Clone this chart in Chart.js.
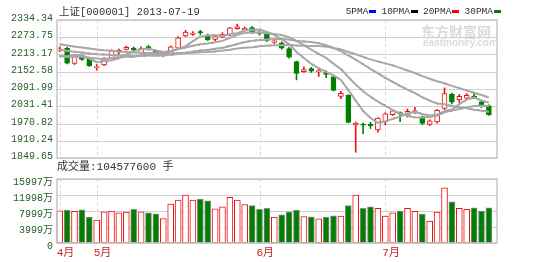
<!DOCTYPE html>
<html>
<head>
<meta charset="utf-8">
<script src="https://cdn.jsdelivr.net/npm/chart.js@4.4.1/dist/chart.umd.min.js"></script>
<style>
  body { margin: 0; background: #fff; }
  #wrap { position: relative; width: 550px; height: 262px; overflow: hidden;
          font-family: "Liberation Mono", "Noto Sans CJK SC", monospace; }
  canvas { position: absolute; left: 0; }
  .txt { position: absolute; white-space: nowrap; color: #333; font-size: 10.5px; line-height: 12px; }
  .sw { display: inline-block; width: 7px; height: 3px; margin: 0 5px 0 1px; vertical-align: middle; }
  .wm { position: absolute; white-space: nowrap; color: #dadada; font-weight: bold; font-family: "Noto Sans CJK SC", sans-serif; }
</style>
</head>
<body>
<div id="wrap">
  <canvas id="kline" width="550" height="170" style="top:0"></canvas>
  <canvas id="vol" width="550" height="92" style="top:170px"></canvas>
  <div class="txt" style="left:59px;top:6px">上证[000001] 2013-07-19</div>
  <div class="txt" style="right:49px;top:6px;font-size:9.5px">5PMA<span class="sw" style="background:#0000ff"></span>10PMA<span class="sw" style="background:#000"></span>20PMA<span class="sw" style="background:#ff0000"></span>30PMA<span class="sw" style="background:#008000;margin-right:0"></span></div>
  <div class="wm" style="left:421px;top:23px;font-size:14px;line-height:16px">东方财富网</div>
  <div class="wm" style="left:423px;top:38px;font-size:10px;line-height:10px;font-family:'Liberation Sans',sans-serif">eastmoney.com</div>
  <div class="txt" style="left:57px;top:161px;font-size:11px">成交量:104577600 手</div>
</div>
<script>
// trading days shown (one empty slot is kept after the last one)
const dates = ['2013-04-22','2013-04-23','2013-04-24','2013-04-25','2013-04-26',
  '2013-05-02','2013-05-03','2013-05-06','2013-05-07','2013-05-08','2013-05-09','2013-05-10',
  '2013-05-13','2013-05-14','2013-05-15','2013-05-16','2013-05-17','2013-05-20','2013-05-21',
  '2013-05-22','2013-05-23','2013-05-24','2013-05-27','2013-05-28','2013-05-29','2013-05-30','2013-05-31',
  '2013-06-03','2013-06-04','2013-06-05','2013-06-06','2013-06-07','2013-06-13','2013-06-14',
  '2013-06-17','2013-06-18','2013-06-19','2013-06-20','2013-06-21','2013-06-24','2013-06-25',
  '2013-06-26','2013-06-27','2013-06-28',
  '2013-07-01','2013-07-02','2013-07-03','2013-07-04','2013-07-05','2013-07-08','2013-07-09',
  '2013-07-10','2013-07-11','2013-07-12','2013-07-15','2013-07-16','2013-07-17','2013-07-18','2013-07-19'];

const opens  = [2228,2235,2182,2209,2198,2167,2177,2200,2221,2231,2235,2220,2241,2226,2210,2215,2235,2278,2284,2294,
  2280,2266,2274,2281,2304,2300,2308,2290,2284,2256,2254,2234,2188,2153,2164,2152,2150,2135,2066,2070,
  1966,1969,1968,1948,1977,2002,2009,2000,2013,1994,1968,1976,2024,2073,2054,2060,2067,2047,2033];
const highs  = [2240,2238,2214,2214,2202,2178,2202,2230,2232,2243,2240,2240,2245,2229,2222,2243,2275,2298,2294,2298,
  2285,2280,2290,2309,2320,2310,2311,2295,2287,2268,2257,2238,2190,2170,2168,2163,2156,2138,2084,2072,
  1976,1972,1975,1992,2008,2018,2012,2022,2028,1997,1984,2020,2096,2078,2073,2076,2076,2052,2036];
const lows   = [2224,2180,2178,2192,2171,2158,2174,2198,2214,2229,2223,2217,2228,2207,2206,2212,2233,2276,2280,2283,
  2262,2262,2272,2279,2302,2296,2288,2281,2258,2252,2232,2200,2124,2150,2150,2136,2132,2085,2058,1973,
  1870,1935,1953,1940,1966,1999,1977,1993,2006,1967,1963,1972,2020,2040,2045,2055,2058,2027,1999];
const closes = [2233,2183,2208,2196,2174,2171,2200,2228,2228,2238,2228,2234,2232,2211,2216,2240,2272,2292,2288,2289,
  2265,2276,2284,2307,2310,2305,2290,2287,2263,2261,2235,2204,2147,2160,2155,2157,2143,2087,2077,1975,
  1972,1965,1963,1990,2005,2015,2004,2014,2016,1971,1980,2017,2076,2046,2066,2070,2061,2030,2002];

// volume, in 万手
const volumes = [8040,8210,7890,8290,6450,5700,7790,7960,7530,7710,8390,7790,7530,7280,6130,9720,10720,11980,10720,11000,
  10560,8550,9050,11390,10720,9630,9380,8390,8640,6450,7030,7790,8210,6630,6530,6030,6450,6780,6700,9380,
  11980,8640,9050,8640,6700,7530,7960,8640,7890,7210,5450,7710,13810,10300,8640,8390,8790,7960,8790];

// moving averages
const ma5  = [2208,2207,2211,2211,2199,2186,2190,2193,2200,2213,2224,2232,2233,2227,2222,2225,2232,2242,2260,2276,
  2280,2281,2280,2284,2288,2297,2300,2301,2292,2282,2266,2250,2222,2201,2180,2165,2152,2140,2124,2088,
  2051,2015,1990,1973,1979,1987,1995,2006,2011,2004,1999,2002,2014,2020,2039,2055,2062,2052,2044];
const ma10 = [2208,2204,2206,2205,2202,2199,2197,2200,2203,2205,2205,2211,2213,2213,2217,2225,2232,2238,2244,2249,
  2252,2256,2261,2272,2282,2289,2290,2290,2288,2285,2282,2274,2261,2246,2230,2215,2201,2181,2162,2134,
  2108,2084,2065,2048,2033,2019,2005,1998,1992,1992,1994,1999,2010,2016,2022,2027,2032,2033,2032];
const ma20 = [2229,2226,2223,2220,2217,2214,2213,2211,2210,2209,2207,2208,2210,2210,2210,2212,2215,2219,2223,2227,
  2229,2233,2237,2243,2250,2257,2261,2264,2266,2267,2267,2266,2261,2259,2257,2253,2246,2236,2225,2210,
  2195,2179,2163,2147,2131,2117,2103,2090,2078,2063,2051,2041,2038,2032,2028,2024,2019,2016,2012];
const ma30 = [2249,2245,2241,2238,2234,2231,2228,2226,2224,2222,2220,2219,2218,2218,2217,2217,2218,2218,2219,2221,
  2222,2224,2227,2230,2234,2237,2239,2242,2244,2246,2246,2247,2245,2244,2243,2243,2241,2236,2231,2222,
  2214,2205,2196,2189,2182,2175,2166,2157,2148,2137,2128,2119,2112,2103,2095,2087,2079,2071,2062];

const priceTicks = [1849.65, 1910.24, 1970.82, 2031.41, 2091.99, 2152.58, 2213.17, 2273.75, 2334.34];
const volTicks = [0, 3999, 7999, 11998, 15997];

const RED = '#ee1111', GREEN = '#008000';
const labels = dates.concat(['']);
const up = closes.map((c, i) => c >= opens[i]);
const monthStart = dates.map((d, i) => i === 0 || d.slice(5, 7) !== dates[i - 1].slice(5, 7));

Chart.defaults.font.family = "'Liberation Mono','Noto Sans CJK SC',monospace";
Chart.defaults.font.size = 10;
Chart.defaults.animation = false;

// grid lines, month lines and the box round the plot
function gridPlugin(ticks) {
  return {
    id: 'grid',
    beforeDatasetsDraw(chart) {
      const { ctx, chartArea: a, scales } = chart;
      const L = a.left + 1, R = a.right - 3;
      ctx.save();
      ctx.strokeStyle = '#cfcfcf';
      ctx.lineWidth = 1;
      ticks.forEach(v => {
        const y = Math.round(scales.y.getPixelForValue(v)) + 0.5;
        ctx.beginPath(); ctx.moveTo(L, y); ctx.lineTo(R, y); ctx.stroke();
      });
      ctx.strokeStyle = '#d6d6d6';
      ctx.setLineDash([3, 3]);
      monthStart.forEach((m, i) => {
        if (!m) return;
        const x = Math.round(scales.x.getPixelForValue(i)) + 0.5;
        ctx.beginPath(); ctx.moveTo(x, a.top); ctx.lineTo(x, a.bottom); ctx.stroke();
      });
      ctx.restore();
    },
    afterDraw(chart) {
      const { ctx, chartArea: a } = chart;
      ctx.save();
      ctx.strokeStyle = '#c6c6c6';
      ctx.lineWidth = 1.5;
      ctx.strokeRect(a.left + 1, a.top, a.right - 4 - a.left, a.bottom - a.top);
      ctx.restore();
    }
  };
}

function yAxis(ticks, fmt, offset) {
  return {
    position: 'left', bounds: 'data',
    min: ticks[0], max: ticks[ticks.length - 1],
    afterBuildTicks: s => { s.ticks = ticks.map(v => ({ value: v })); },
    afterFit: s => { s.width = 56; },
    grid: { display: false, drawTicks: false },
    border: { display: false },
    ticks: { autoSkip: false, padding: 3, color: '#245f24', labelOffset: offset, callback: fmt }
  };
}

function maLine(data, color, dash) {
  return [
    { type: 'line', data: data, borderColor: '#a8a8a8', borderWidth: 2, pointRadius: 0, order: 0 },
    { type: 'line', data: data, borderColor: color, borderWidth: 1.5, borderDash: dash, pointRadius: 0, order: 0 }
  ];
}

new Chart(document.getElementById('kline'), {
  type: 'bar',
  data: {
    labels: labels,
    datasets: [
      ...maLine(ma5, '#0000ff', [2, 5]),
      ...maLine(ma10, '#000000', [2, 12]),
      ...maLine(ma20, '#ff0000', [3, 4]),
      ...maLine(ma30, '#008000', [2, 12]),
      {
        data: opens.map((o, i) => [o, closes[i]]),
        grouped: false, barThickness: 5, minBarLength: 1, order: 1,
        borderWidth: 1, borderSkipped: false,
        backgroundColor: up.map(u => u ? '#ffffff' : GREEN),
        borderColor: up.map(u => u ? RED : GREEN)
      },
      {
        data: lows.map((l, i) => [l, highs[i]]),
        grouped: false, barThickness: 1, order: 2, borderWidth: 0,
        backgroundColor: up.map(u => u ? RED : GREEN)
      }
    ]
  },
  options: {
    responsive: false,
    layout: { padding: { left: 0, right: 50, top: 20, bottom: 12 } },
    plugins: { legend: { display: false }, tooltip: { enabled: false } },
    scales: {
      x: {
        offset: true,
        grid: { display: false, drawTicks: false },
        border: { display: false },
        ticks: { display: false },
        afterFit: s => { s.height = 0; }
      },
      y: yAxis(priceTicks, v => v.toFixed(2), -1.5)
    }
  },
  plugins: [gridPlugin(priceTicks)]
});

new Chart(document.getElementById('vol'), {
  type: 'bar',
  data: {
    labels: labels,
    datasets: [{
      data: volumes,
      barThickness: 6, borderWidth: 1, borderSkipped: false,
      backgroundColor: up.map(u => u ? '#ffffff' : GREEN),
      borderColor: up.map(u => u ? RED : '#8c8c8c')
    }]
  },
  options: {
    responsive: false,
    layout: { padding: { left: 0, right: 50, top: 9, bottom: 0 } },
    plugins: { legend: { display: false }, tooltip: { enabled: false } },
    scales: {
      x: {
        offset: true,
        grid: { display: false, drawTicks: false },
        border: { display: false },
        ticks: {
          autoSkip: false, maxRotation: 0, align: 'start', labelOffset: -3, padding: 3,
          color: '#cc2222', font: { size: 11 },
          callback: (v, i) => monthStart[i] ? parseInt(dates[i].slice(5, 7), 10) + '月' : ''
        },
        afterFit: s => { s.height = 19; }
      },
      y: yAxis(volTicks, v => v === 0 ? '0' : v + '万', 3)
    }
  },
  plugins: [gridPlugin(volTicks)]
});
</script>
</body>
</html>
